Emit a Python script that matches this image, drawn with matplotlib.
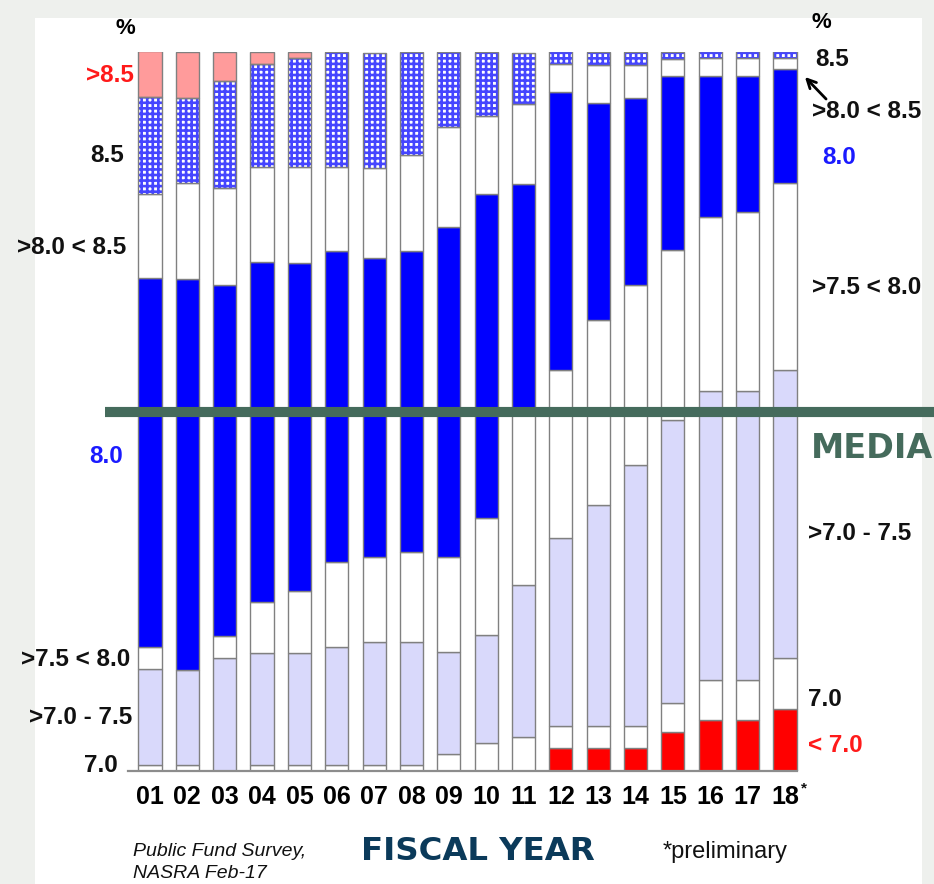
import matplotlib
matplotlib.use("Agg")
import matplotlib.pyplot as plt
from matplotlib.patches import Rectangle

# ---------------- data (percent of plans, bottom -> top) ----------------
years = ['01', '02', '03', '04', '05', '06', '07', '08', '09', '10',
         '11', '12', '13', '14', '15', '16', '17', '18']
lt70   = [0, 0, 0, 0, 0, 0, 0, 0, 0, 0, 0, 3.2, 3.2, 3.2, 5.4, 7.1, 7.1, 8.6]
eq70   = [0.8, 0.8, 0, 0.8, 0.8, 0.8, 0.8, 0.8, 2.4, 3.9, 4.7, 3.1, 3.1, 3.1, 4.0, 5.6, 5.6, 7.1]
r70_75 = [13.4, 13.2, 15.7, 15.6, 15.6, 16.4, 17.2, 17.2, 14.2, 15.0, 21.1, 26.1, 30.7, 36.3, 39.4, 40.1, 40.1, 40.1]
r75_80 = [3.1, 0, 3.1, 7.1, 8.6, 11.8, 11.7, 12.4, 13.2, 16.3, 24.3, 23.4, 25.7, 25.0, 23.6, 24.3, 25.0, 26.0]
eq80   = [51.2, 54.4, 48.8, 47.3, 45.6, 43.3, 41.7, 41.9, 45.8, 45.1, 31.6, 38.7, 30.2, 26.0, 24.2, 19.6, 18.9, 15.9]
r80_85 = [11.7, 13.4, 13.5, 13.2, 13.4, 11.7, 12.5, 13.4, 14.0, 10.8, 11.0, 3.8, 5.3, 4.6, 2.4, 2.4, 2.4, 1.4]
eq85   = [13.5, 11.8, 14.9, 14.3, 15.2, 16.0, 16.0, 14.3, 10.4, 8.9, 7.2, 1.8, 1.8, 1.8, 1.0, 1.0, 1.0, 1.0]
gt85   = [6.4, 6.4, 4.0, 1.7, 0.8, 0, 0, 0, 0, 0, 0, 0, 0, 0, 0, 0, 0, 0]
median_line = 50

W, H = 934, 884
fig = plt.figure(figsize=(W / 100, H / 100), dpi=100)
fig.patch.set_facecolor('#eef0ed')
fig.patches.append(Rectangle((35 / W, 0), (922 - 35) / W, 1 - 18 / H,
                             transform=fig.transFigure, facecolor='white',
                             edgecolor='none', zorder=-10))

# axes placement in pixels
ax_l, ax_r, ax_b, ax_t = 120, 800, 771, 52
ax = fig.add_axes([ax_l / W, 1 - ax_b / H, (ax_r - ax_l) / W, (ax_b - ax_t) / H])
ax.set_facecolor('none')
x0, unit = 150, 37.35
ax.set_xlim((ax_l - x0) / unit, (ax_r - x0) / unit)
ax.set_ylim(0, 100)
for s in ax.spines.values():
    s.set_visible(False)
ax.set_yticks([])

plt.rcParams['hatch.linewidth'] = 1.9

bw = 0.62
edge = '#808080'
x = list(range(len(years)))
segments = [
    (lt70,   dict(facecolor='#ff0000')),
    (eq70,   dict(facecolor='white')),
    (r70_75, dict(facecolor='#d9d9fb')),
    (r75_80, dict(facecolor='white')),
    (eq80,   dict(facecolor='#0000ff')),
    (r80_85, dict(facecolor='white')),
    (eq85,   'hatch'),
    (gt85,   dict(facecolor='#ff9b9b')),
]
bottom = [0.0] * len(years)
for vals, style in segments:
    idx = [i for i in x if vals[i] > 0]
    xs = [x[i] for i in idx]
    hs = [vals[i] for i in idx]
    bs = [bottom[i] for i in idx]
    if style == 'hatch':
        ax.bar(xs, hs, bw, bottom=bs, facecolor='white', edgecolor='#4545ff',
               hatch='+++', linewidth=0, zorder=2)
        ax.bar(xs, hs, bw, bottom=bs, facecolor='none', edgecolor=edge,
               linewidth=1.0, zorder=3)
    else:
        ax.bar(xs, hs, bw, bottom=bs, edgecolor=edge, linewidth=1.0,
               zorder=2, **style)
    for i in x:
        bottom[i] += vals[i]

# baseline
ax.plot([(128 - x0) / unit, (797 - x0) / unit], [0, 0], color='#8c8c8c',
        lw=1.6, clip_on=False, zorder=4)
# median line
ax.plot([(105 - x0) / unit, (934 - x0) / unit], [median_line, median_line],
        color='#456b5c', lw=7.3, clip_on=False, zorder=5, solid_capstyle='butt')

# x tick labels
ax.set_xticks(x)
ax.set_xticklabels(years, fontsize=18, fontweight='bold',
                   family=['Liberation Sans', 'DejaVu Sans'])
ax.tick_params(axis='x', length=0, pad=10)

# arrow on right
ax.annotate('', xy=((803 - x0) / unit, (771 - 75) / 7.19),
            xytext=((828 - x0) / unit, (771 - 101) / 7.19),
            arrowprops=dict(arrowstyle='->', color='black', lw=2,
                            mutation_scale=16),
            annotation_clip=False)

fam = ['Liberation Sans', 'DejaVu Sans']


def ftext(px, py, s, **kw):
    kw.setdefault('family', fam)
    kw.setdefault('fontsize', 17.5)
    kw.setdefault('fontweight', 'bold')
    kw.setdefault('va', 'center')
    fig.text(px / W, 1 - py / H, s, **kw)


red, blue = '#ff1a1a', '#1a1aff'
dark = '#111111'
# asterisk on 18
ftext(801, 788, '*', ha='left', fontsize=11, color=dark)

# left labels
ftext(135, 28, '%', ha='right', fontsize=16)
ftext(134, 75, '>8.5', ha='right', color=red)
ftext(124, 156, '8.5', ha='right', color=dark)
ftext(126, 248, '>8.0 < 8.5', ha='right', color=dark)
ftext(123, 456, '8.0', ha='right', color=blue)
ftext(130, 660, '>7.5 < 8.0', ha='right', color=dark)
ftext(132, 717, '>7.0 - 7.5', ha='right', color=dark)
ftext(118, 765, '7.0', ha='right', color=dark)

# right labels
ftext(812, 22, '%', ha='left', fontsize=16)
ftext(815, 60, '8.5', ha='left', color=dark)
ftext(812, 111, '>8.0 < 8.5', ha='left', color=dark)
ftext(822, 157, '8.0', ha='left', color=blue)
ftext(812, 287, '>7.5 < 8.0', ha='left', color=dark)
ftext(808, 533, '>7.0 - 7.5', ha='left', color=dark)
ftext(808, 700, '7.0', ha='left', color=dark)
ftext(808, 746, '< 7.0', ha='left', color=red)

# MEDIA label
ftext(811, 449, 'MEDIA', ha='left', family=['DejaVu Sans'], fontsize=24,
      color='#456b5c')

# bottom texts
ftext(478, 852, 'FISCAL YEAR', ha='center', family=['DejaVu Sans'],
      fontsize=23.3, color='#0b3a5a')
ftext(133, 852, 'Public Fund Survey,', ha='left', fontsize=14,
      fontweight='normal', style='italic', color=dark)
ftext(133, 873, 'NASRA Feb-17', ha='left', fontsize=14,
      fontweight='normal', style='italic', color=dark)
ftext(663, 852, '*preliminary', ha='left', fontsize=17,
      fontweight='normal', color=dark)

fig.savefig('out.png', dpi=100, facecolor=fig.get_facecolor())
